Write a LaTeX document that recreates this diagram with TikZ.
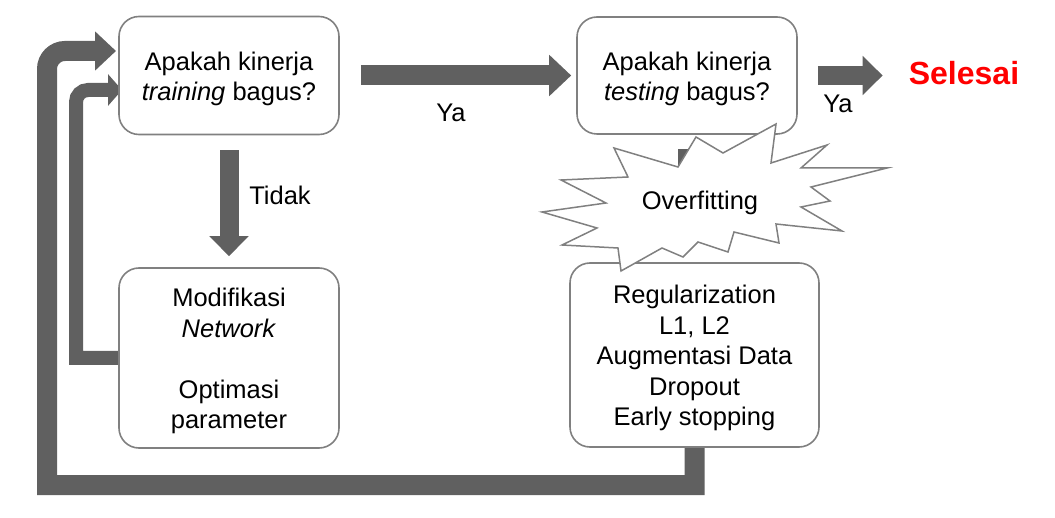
\documentclass[tikz,border=0pt]{standalone}
\usepackage{fontspec}
\setmainfont{Liberation Sans}
\usetikzlibrary{arrows.meta,calc}
\definecolor{arrowgray}{RGB}{96,96,96}
\definecolor{boxgray}{RGB}{128,128,128}
\newcommand\lbl{\fontsize{25.5}{30.5}\selectfont}
\newcommand\topstrut{\rule{0pt}{25pt}}
\tikzset{
  box/.style={draw=boxgray, line width=1.6pt, rounded corners=20pt, fill=white, align=center, inner sep=0pt, font=\lbl},
  fatarrow/.style={draw=arrowgray, line width=20pt, -{Triangle[length=22pt,width=40pt]}},
  midarrow/.style={draw=arrowgray, line width=19pt, -{Triangle[length=20pt,width=38pt]}},
  bigloop/.style={draw=arrowgray, line width=20pt, -{Triangle[length=21pt,width=38pt]}},
  smallloop/.style={draw=arrowgray, line width=14pt, -{Triangle[length=14pt,width=31pt]}},
  lab/.style={font=\lbl, inner sep=0pt},
  burst/.style={draw=boxgray, line width=1.5pt, fill=white, line join=miter},
}
\begin{document}
\begin{tikzpicture}[x=1pt,y=-1pt]
\useasboundingbox (0,0) rectangle (1055,518);
\path
  (229,75.5) coordinate (c1)
  (687,75.5) coordinate (c2)
  (229,358) coordinate (c3)
  (694.5,355) coordinate (c4);
% loop connectors (under the boxes)
\coordinate (bl) at (47,485);
\coordinate (t1) at (116,51);
\coordinate (sl) at (76,358);
\coordinate (t2) at (122,90);
\draw[bigloop] (c4 |- 0,447) -- (c4 |- bl) -- (bl) [rounded corners=18pt] -- (bl |- t1) [sharp corners] -- (t1);
\draw[smallloop] (119,358) -- (sl) [rounded corners=12pt] -- (sl |- t2) [sharp corners] -- (t2);
% boxes
\node[box, minimum width=220pt, minimum height=118pt] (box1) at (c1) {\topstrut Apakah kinerja\\\textit{training} bagus?};
\node[box, minimum width=220pt, minimum height=117pt] (box2) at (c2) {\topstrut Apakah kinerja\\\textit{testing} bagus?};
\node[box, minimum width=220pt, minimum height=180pt] (box3) at (c3) {\topstrut Modifikasi\\\textit{Network}\\[30.5pt]Optimasi\\parameter};
\node[box, minimum width=249pt, minimum height=184pt] (box4) at (c4) {\topstrut Regularization\\L1, L2\\Augmentasi Data\\Dropout\\Early stopping};
\node[inner sep=0pt, text=red, font=\fontsize{32}{36}\selectfont\bfseries] (sel) at (964,73.5) {Selesai};
% straight arrows
\draw[fatarrow, shorten <=21pt, shorten >=5pt] (box1.east) -- (box2.west);
\draw[midarrow, shorten <=20pt, shorten >=26pt] (box2.east) -- (box2.east -| sel.west);
\draw[midarrow, shorten <=15pt, shorten >=11pt] (box1.south) -- (box3.north);
\draw[midarrow, shorten <=14pt, shorten >=11pt] (box2.south) -- (box2.south |- box4.north);
% labels
\node[lab] (ya1) at (451,113) {Ya};
\node[lab] (ya2) at (838,104) {Ya};
\node[lab] (tidak) at (280,195) {Tidak};
% starburst
\draw[burst] (696,137) -- (723,153) -- (776,124) -- (771,163) -- (827,145) -- (801,168)
  -- (887,168) -- (811,187) -- (830,201) -- (801,207) -- (842,231) -- (776,224)
  -- (779,243) -- (734,232) -- (728,252) -- (698,242) -- (683,257) -- (662,248)
  -- (621,271) -- (618,248) -- (562,245) -- (597,228) -- (542,212) -- (606,203)
  -- (561,180) -- (628,177) -- (614,148) -- (678,167) -- cycle;
\node[lab] (over) at (700,203) {Overfitting};
\end{tikzpicture}
\end{document}
